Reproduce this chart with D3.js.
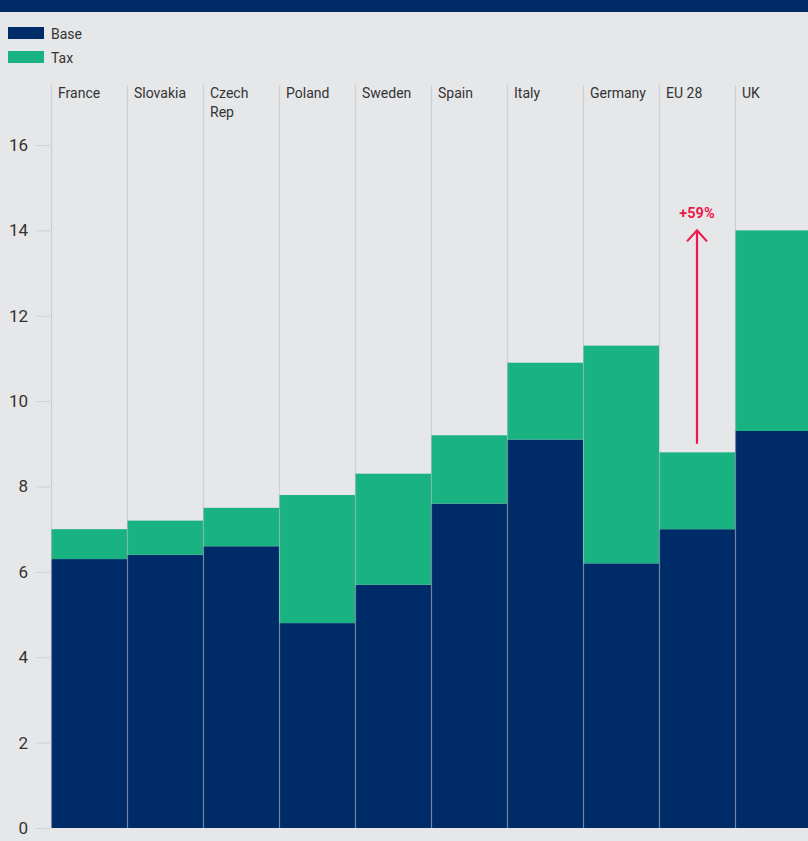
<!DOCTYPE html>
<html>
<head>
<meta charset="utf-8">
<script src="https://cdn.jsdelivr.net/npm/d3@7"></script>
<style>
  html, body { margin: 0; padding: 0; background: #e6e7e9; }
  svg { display: block; }
  text { font-family: Roboto, "Noto Sans", sans-serif; }
</style>
</head>
<body>
<svg id="chart" width="808" height="841"></svg>
<script>
// Price per country, split into base price and tax
const categories = ["France", "Slovakia", "Czech\nRep", "Poland", "Sweden", "Spain", "Italy", "Germany", "EU 28", "UK"];
const baseValues = [6.3, 6.4, 6.6, 4.8, 5.7, 7.6, 9.1, 6.2, 7.0, 9.3];
const taxValues  = [0.7, 0.8, 0.9, 3.0, 2.6, 1.6, 1.8, 5.1, 1.8, 4.7];
const seriesNames = ["Base", "Tax"];
const yTicks = [0, 2, 4, 6, 8, 10, 12, 14, 16];
// Comparison arrow on EU 28 column, rising to the UK level
const arrowCategory = "EU 28";
const arrowFrom = 9.0;
const arrowTo = 14.0;
const arrowLabel = "+59%";

const colors = { Base: "#002b69", Tax: "#19b381" };
const W = 808, H = 841;
const svg = d3.select("#chart");

const x = d3.scaleBand().domain(categories).range([51, 811]).padding(0);
const y = d3.scaleLinear().domain([0, 16]).range([828, 145]);

// Header strip
svg.append("rect").attr("x", 0).attr("y", 0).attr("width", W).attr("height", 12).attr("fill", "#002b69");

// Legend
const legend = svg.append("g");
seriesNames.forEach((name, i) => {
  const g = legend.append("g").attr("transform", `translate(8,${27 + i * 24})`);
  g.append("rect").attr("width", 36).attr("height", 12).attr("fill", colors[name]);
  g.append("text").attr("x", 43).attr("y", 11.5).attr("font-size", 14).attr("fill", "#333").text(name);
});

// Stacked bars
const rows = categories.map((c, i) => ({ cat: c, Base: baseValues[i], Tax: taxValues[i] }));
const stacked = d3.stack().keys(seriesNames)(rows);
svg.append("g").selectAll("g").data(stacked).join("g")
  .attr("fill", d => colors[d.key])
  .selectAll("rect").data(d => d).join("rect")
  .attr("x", d => x(d.data.cat))
  .attr("width", x.bandwidth())
  .attr("y", d => y(d[1]))
  .attr("height", d => y(d[0]) - y(d[1]));

// Column dividers, drawn translucent over the bars
svg.append("g").selectAll("line").data(categories).join("line")
  .attr("x1", d => x(d) + 0.5).attr("x2", d => x(d) + 0.5)
  .attr("y1", 85).attr("y2", y(0))
  .attr("stroke", "#bcc0c6").attr("stroke-opacity", 0.6).attr("stroke-width", 1.2);

// Column labels
svg.append("g").selectAll("text").data(categories).join("text")
  .attr("x", d => x(d) + 7)
  .attr("y", 98)
  .attr("font-size", 14)
  .attr("fill", "#333")
  .each(function (d) {
    const lines = d.split("\n");
    d3.select(this).selectAll("tspan").data(lines).join("tspan")
      .attr("x", x(d) + 7)
      .attr("dy", (l, i) => i === 0 ? 0 : 19)
      .text(l => l);
  });

// Y axis
const yAxis = svg.append("g").attr("transform", "translate(50,0)")
  .call(d3.axisLeft(y).tickValues(yTicks).tickSize(14).tickPadding(8).tickFormat(d3.format("d")));
yAxis.select(".domain").remove();
yAxis.selectAll(".tick line").attr("stroke", "#cfd1d4");
yAxis.selectAll(".tick text").attr("font-size", 17).attr("fill", "#333")
  .attr("font-family", "Roboto, 'Noto Sans', sans-serif");

// Arrow with percentage label
const ax = x(arrowCategory) + x.bandwidth() / 2;
const red = "#ec1a4b";
const arrow = svg.append("g").attr("stroke", red).attr("fill", "none").attr("stroke-width", 2.2);
arrow.append("line").attr("x1", ax).attr("x2", ax).attr("y1", y(arrowFrom)).attr("y2", y(arrowTo));
arrow.append("path")
  .attr("d", `M${ax - 10},${y(arrowTo) + 11} L${ax},${y(arrowTo)} L${ax + 10},${y(arrowTo) + 11}`);
svg.append("text").attr("x", ax).attr("y", y(arrowTo) - 12)
  .attr("text-anchor", "middle").attr("font-size", 14.5).attr("font-weight", "bold")
  .attr("fill", red).text(arrowLabel);
</script>
</body>
</html>
